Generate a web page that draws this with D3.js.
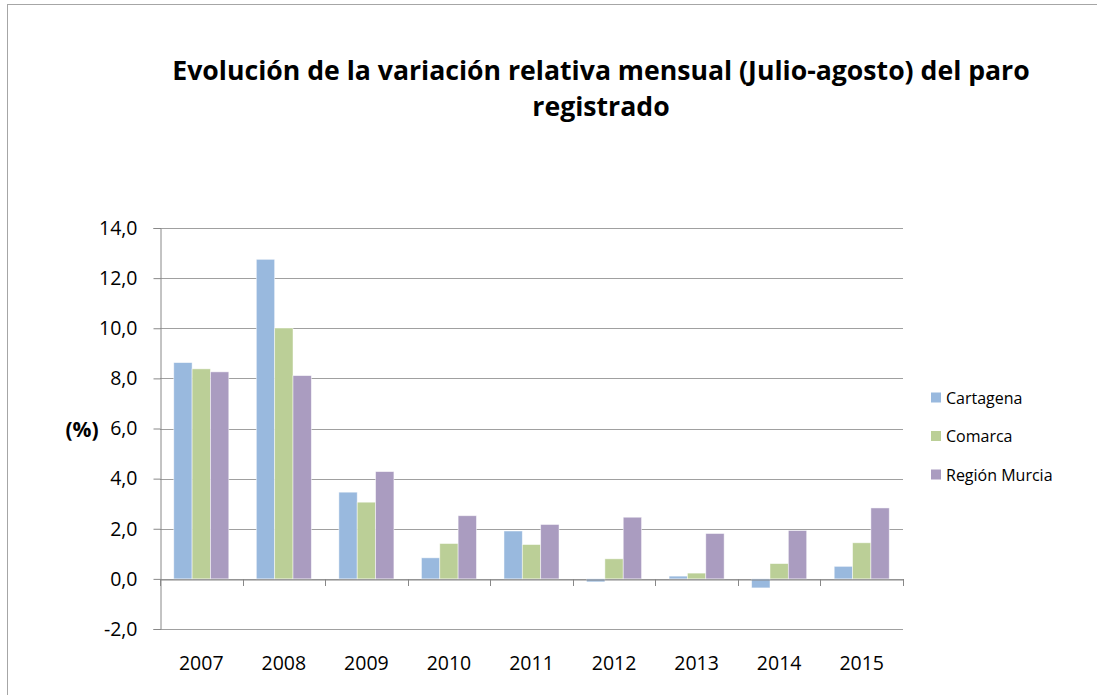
<!DOCTYPE html>
<html>
<head>
<meta charset="utf-8">
<script src="https://cdn.jsdelivr.net/npm/d3@7"></script>
<style>
  body { margin: 0; background: #fff; }
  text { font-family: "Open Sans", sans-serif; fill: #000; }
</style>
</head>
<body>
<svg id="chart" width="1097" height="695"></svg>
<script>
// data
const years = ["2007","2008","2009","2010","2011","2012","2013","2014","2015"]
const seriesNames = ["Cartagena","Comarca","Región Murcia"]
const cartagena = [8.63, 12.75, 3.46, 0.84, 1.91, -0.12, 0.11, -0.36, 0.50]
const comarca   = [8.38, 10.01, 3.06, 1.41, 1.37, 0.80, 0.23, 0.61, 1.44]
const region    = [8.26, 8.11, 4.28, 2.52, 2.17, 2.46, 1.81, 1.93, 2.83]
const yTicks = [-2, 0, 2, 4, 6, 8, 10, 12, 14]
const colors = ["#99b9de", "#bbcf97", "#aa9cc0"]

const svg = d3.select("#chart")
const plot = {left: 160, right: 903, top: 228, bottom: 629}

// outer chart frame (only left and top edges are inside the picture)
svg.append("rect")
  .attr("x", 7.5).attr("y", 4.5)
  .attr("width", 1200).attr("height", 800)
  .attr("fill", "none").attr("stroke", "#a6a6a6").attr("stroke-width", 1)

const x0 = d3.scaleBand().domain(years).range([plot.left, plot.right])
// Excel style gap width 150%: 3 bars + 1.5 bar gap
const barW = x0.bandwidth() / 4.5
const y = d3.scaleLinear().domain([-2, 14]).range([plot.bottom, plot.top])

// gridlines
svg.append("g").selectAll("line").data(yTicks).join("line")
  .attr("x1", plot.left).attr("x2", plot.right)
  .attr("y1", d => Math.round(y(d)) + 0.5).attr("y2", d => Math.round(y(d)) + 0.5)
  .attr("stroke", "#a0a0a0").attr("stroke-width", 1)

// bars
const table = years.map((yr, i) => ({year: yr, vals: [cartagena[i], comarca[i], region[i]]}))
const groups = svg.append("g").selectAll("g").data(table).join("g")
  .attr("transform", d => `translate(${x0(d.year) + barW * 0.75},0)`)
groups.selectAll("rect").data(d => d.vals).join("rect")
  .attr("x", (d, i) => i * barW)
  .attr("y", d => y(Math.max(0, d)))
  .attr("width", barW)
  .attr("height", d => Math.abs(y(d) - y(0)))
  .attr("fill", (d, i) => colors[i])
  .attr("stroke", "#ffffff").attr("stroke-opacity", 0.6).attr("stroke-width", 0.8)

// y axis
const yAxis = svg.append("g")
  .attr("transform", `translate(${plot.left + 0.5},0)`)
  .call(d3.axisLeft(y).tickValues(yTicks).tickSize(7).tickPadding(16)
    .tickFormat(d => d3.format(".1f")(d).replace(".", ",").replace("\u2212", "-")))
yAxis.select(".domain").attr("stroke", "#888")
yAxis.selectAll(".tick line").attr("stroke", "#888")
yAxis.selectAll(".tick text").style("font-size", "19.5px").attr("fill", "#000")

// x axis on zero line
const xAxis = svg.append("g")
  .attr("transform", `translate(0,${Math.round(y(0)) + 0.5})`)
  .call(d3.axisBottom(x0).tickSize(0).tickPadding(0))
xAxis.select(".domain").attr("stroke", "#888")
xAxis.selectAll(".tick text").remove()
// category boundary ticks
svg.append("g").selectAll("line").data(d3.range(years.length + 1)).join("line")
  .attr("x1", i => Math.round(plot.left + i * x0.step()) + 0.5)
  .attr("x2", i => Math.round(plot.left + i * x0.step()) + 0.5)
  .attr("y1", Math.round(y(0))).attr("y2", Math.round(y(0)) + 7)
  .attr("stroke", "#888")

// category labels at bottom
svg.append("g").selectAll("text").data(years).join("text")
  .attr("x", d => x0(d) + x0.bandwidth() / 2)
  .attr("y", 670)
  .attr("text-anchor", "middle")
  .style("font-size", "19.5px")
  .text(d => d)

// y axis title
svg.append("text")
  .attr("x", 82).attr("y", 437)
  .attr("text-anchor", "middle")
  .style("font-size", "21px").style("font-weight", "bold")
  .text("(%)")

// title
const titleLines = ["Evolución de la variación relativa mensual (Julio-agosto) del paro", "registrado"]
const title = svg.append("g").selectAll("text").data(titleLines).join("text")
  .attr("x", 601)
  .attr("y", (d, i) => 80 + i * 36)
  .attr("text-anchor", "middle")
  .style("font-size", "26px").style("font-weight", "bold")
  .text(d => d)
// fit first line to the width seen in the picture
const w0 = title.nodes()[0].getComputedTextLength()
const fs = 26 * 858 / w0
title.style("font-size", fs + "px")

// legend
const legend = svg.append("g").selectAll("g").data(seriesNames).join("g")
  .attr("transform", (d, i) => `translate(931,${398 + i * 38.5})`)
legend.append("rect")
  .attr("x", 0).attr("y", -5.5).attr("width", 10).attr("height", 10)
  .attr("fill", (d, i) => colors[i])
legend.append("text")
  .attr("x", 15).attr("y", 0).attr("dy", "0.35em")
  .style("font-size", "16px")
  .text(d => d)
</script>
</body>
</html>
